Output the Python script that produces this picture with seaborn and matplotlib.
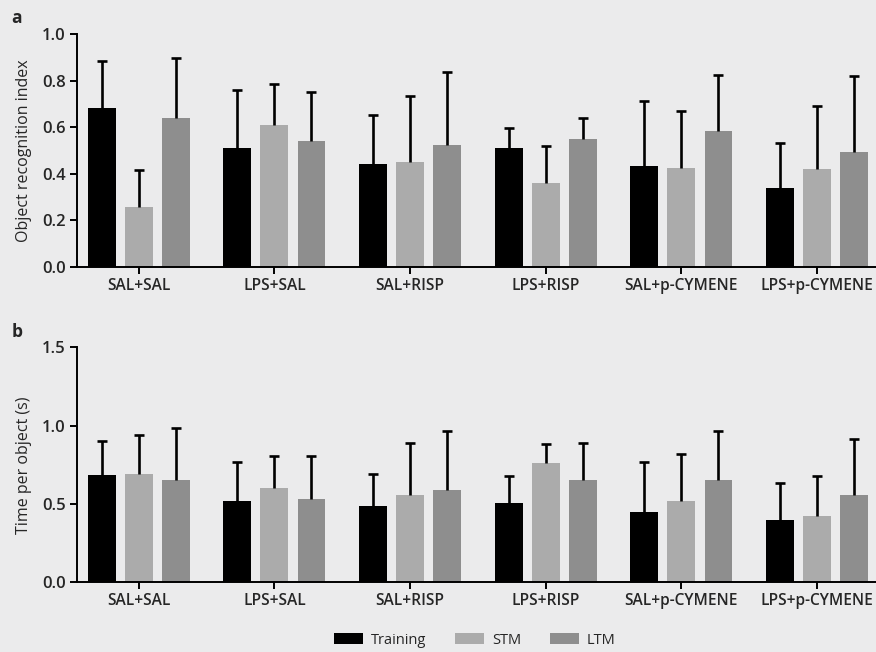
import numpy as np
import pandas as pd
import matplotlib
matplotlib.use("Agg")
import matplotlib.pyplot as plt
from matplotlib.patches import Patch
import seaborn as sns

sns.set_style("ticks")
plt.rcParams["font.family"] = ["Open Sans", "DejaVu Sans"]

BG = "#ebebec"
groups = ["SAL+SAL", "LPS+SAL", "SAL+RISP", "LPS+RISP", "SAL+p-CYMENE", "LPS+p-CYMENE"]
phases = ["Training", "STM", "LTM"]
colors = ["#000000", "#ababab", "#8e8e8e"]

# panel a: object recognition index (mean, SD)
ori_train = [0.684, 0.509, 0.443, 0.512, 0.435, 0.340]
ori_stm   = [0.259, 0.609, 0.449, 0.359, 0.424, 0.419]
ori_ltm   = [0.638, 0.542, 0.524, 0.549, 0.585, 0.495]
ori_train_sd = [0.201, 0.251, 0.208, 0.086, 0.276, 0.191]
ori_stm_sd   = [0.157, 0.176, 0.286, 0.159, 0.244, 0.271]
ori_ltm_sd   = [0.260, 0.209, 0.314, 0.089, 0.240, 0.326]

# panel b: time per object (s)
tpo_train = [0.688, 0.520, 0.488, 0.507, 0.448, 0.399]
tpo_stm   = [0.690, 0.599, 0.558, 0.762, 0.520, 0.422]
tpo_ltm   = [0.650, 0.533, 0.588, 0.652, 0.656, 0.556]
tpo_train_sd = [0.216, 0.248, 0.204, 0.172, 0.323, 0.238]
tpo_stm_sd   = [0.253, 0.210, 0.334, 0.119, 0.299, 0.257]
tpo_ltm_sd   = [0.335, 0.276, 0.378, 0.240, 0.312, 0.361]


def long_df(tr, st, lt, trs, sts, lts):
    rows = []
    for vals, sds, ph in [(tr, trs, "Training"), (st, sts, "STM"), (lt, lts, "LTM")]:
        for g, v, s in zip(groups, vals, sds):
            rows.append({"group": g, "phase": ph, "value": v, "sd": s})
    return pd.DataFrame(rows)


fig = plt.figure(figsize=(8.76, 6.52), dpi=100, facecolor=BG)
ax_a = fig.add_axes([0.0879, 0.5905, 0.9121, 0.3574])
ax_b = fig.add_axes([0.0879, 0.1069, 0.9121, 0.3604])

panels = [
    (ax_a, long_df(ori_train, ori_stm, ori_ltm, ori_train_sd, ori_stm_sd, ori_ltm_sd),
     "Object recognition index", (0, 1.0), [0, 0.2, 0.4, 0.6, 0.8, 1.0]),
    (ax_b, long_df(tpo_train, tpo_stm, tpo_ltm, tpo_train_sd, tpo_stm_sd, tpo_ltm_sd),
     "Time per object (s)", (0, 1.5), [0, 0.5, 1.0, 1.5]),
]

for ax, df, ylabel, ylim, yticks in panels:
    ax.set_facecolor(BG)
    sns.barplot(data=df, x="group", y="value", hue="phase", order=groups,
                hue_order=phases, palette=colors, errorbar=None,
                width=0.82, gap=0.25, saturation=1, legend=False,
                linewidth=0, ax=ax)
    # only the upper half of the SD bar is drawn
    for k, ph in enumerate(phases):
        sub = df[df["phase"] == ph].set_index("group").loc[groups]
        xs = np.arange(len(groups)) + (k - 1) * 0.82 / 3
        eb = ax.errorbar(xs, sub["value"], yerr=[np.zeros(len(groups)), sub["sd"]],
                         fmt="none", ecolor="black", elinewidth=1.9, capsize=3.4,
                         capthick=1.9, zorder=3)
        eb[1][0].set_visible(False)
    ax.set_xlim(-0.455, 5.435)
    ax.set_ylim(*ylim)
    ax.set_yticks(yticks)
    ax.set_yticklabels([f"{t:.1f}" for t in yticks], fontsize=12, fontweight="semibold")
    ax.set_xticks(range(len(groups)))
    ax.set_xticklabels(groups, fontsize=11.2, fontweight="semibold")
    ax.set_xlabel("")
    ax.set_ylabel(ylabel, fontsize=11.5)
    sns.despine(ax=ax)
    for sp in ["left", "bottom"]:
        ax.spines[sp].set_linewidth(1.4)
        ax.spines[sp].set_color("black")
    ax.tick_params(axis="both", length=5, width=1.4, color="black", pad=3)
    ax.yaxis.set_label_coords(-0.056, 0.5)

fig.text(0.013, 0.972, "a", fontsize=12.5, fontweight="bold", va="center")
fig.text(0.013, 0.491, "b", fontsize=12.5, fontweight="bold", va="center")

handles = [Patch(facecolor=c, edgecolor="none", label=p) for p, c in zip(phases, colors)]
fig.legend(handles=handles, loc="center", bbox_to_anchor=(0.542, 0.018), ncol=3,
           frameon=False, fontsize=10.5, handlelength=1.95, handleheight=0.75,
           columnspacing=2.0, handletextpad=0.55)

fig.savefig("out.png", dpi=100, facecolor=BG)
